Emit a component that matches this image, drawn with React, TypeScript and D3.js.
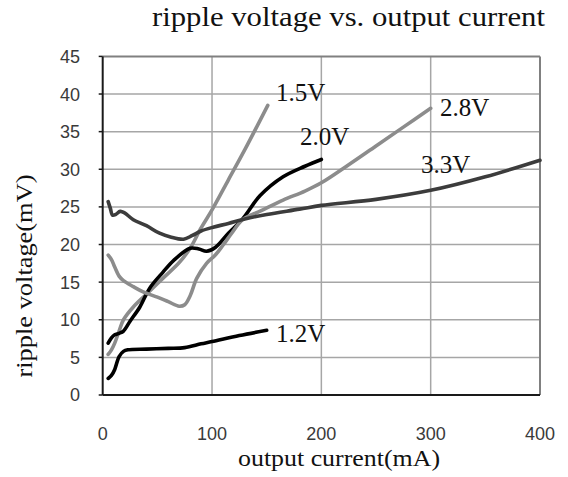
import * as d3 from 'd3'

// ripple voltage (mV) vs output current (mA), one pair of arrays per rail
const x12 = [5, 8, 11, 15, 19, 23, 40, 60, 75, 90, 100, 125, 150]
const y12 = [2.2, 2.6, 3.4, 5.1, 5.8, 6.0, 6.1, 6.2, 6.3, 6.8, 7.1, 7.9, 8.6]

const x15 = [5, 8, 11, 15, 19, 28, 40, 55, 70, 80, 90, 100, 115, 130, 151]
const y15 = [5.4, 6.0, 6.9, 8.5, 10, 11.7, 13.4, 15.5, 17.6, 19.5, 22.2, 24.6, 28.6, 32.6, 38.5]

const x20 = [5, 8, 11, 15, 19, 25, 34, 43, 55, 65, 80, 88, 95, 103, 115, 128, 144, 165, 185, 200]
const y20 = [6.9, 7.6, 8.0, 8.2, 8.5, 9.8, 11.7, 14.2, 16.3, 17.9, 19.5, 19.4, 19.1, 19.6, 21.5, 23.4, 26.5, 29, 30.4, 31.3]

const x28 = [5, 8, 11, 15, 19, 28, 37, 50, 60, 70, 75, 80, 86, 95, 103, 110, 118, 128, 145, 165, 185, 200, 225, 250, 275, 300]
const y28 = [18.6, 18.0, 17.0, 15.8, 15.2, 14.4, 13.7, 13.0, 12.4, 11.8, 12.0, 13.2, 15.5, 17.5, 18.6, 19.9, 21.5, 23.3, 24.5, 25.9, 27.1, 28.2, 30.6, 33.1, 35.6, 38.1]

const x33 = [5, 7, 9, 12, 16, 20, 28, 40, 52, 62, 74, 82, 90, 101, 115, 130, 150, 180, 200, 250, 300, 350, 400]
const y33 = [25.7, 24.8, 23.9, 24.0, 24.4, 24.2, 23.3, 22.5, 21.5, 21.0, 20.7, 21.2, 21.8, 22.3, 22.8, 23.4, 24.0, 24.7, 25.2, 26.0, 27.2, 29.0, 31.2]

const xTicks = [0, 100, 200, 300, 400]
const yTicks = [0, 5, 10, 15, 20, 25, 30, 35, 40, 45]

const series = [
  { name: '1.2V', xs: x12, ys: y12, color: '#000000', lx: 276, ly: 342 },
  { name: '1.5V', xs: x15, ys: y15, color: '#8c8c8c', lx: 276, ly: 101 },
  { name: '2.0V', xs: x20, ys: y20, color: '#000000', lx: 300, ly: 145 },
  { name: '2.8V', xs: x28, ys: y28, color: '#8c8c8c', lx: 440, ly: 116 },
  { name: '3.3V', xs: x33, ys: y33, color: '#3c3c3c', lx: 421, ly: 173 },
]

const W = 568
const H = 477
const left = 102.7
const right = 540
const top = 56.4
const bottom = 395

export default function App() {
  const x = d3.scaleLinear().domain([0, 400]).range([left, right])
  const y = d3.scaleLinear().domain([0, 45]).range([bottom, top])

  const line = d3.line<[number, number]>()
    .x(d => x(d[0]))
    .y(d => y(d[1]))
    .curve(d3.curveCatmullRom.alpha(0.5))

  const serif = '"Liberation Serif", "Times New Roman", serif'
  const sans = '"Liberation Sans", Arial, sans-serif'

  return (
    <svg width={W} height={H} style={{ position: 'absolute', left: 0, top: 0, background: '#fff' }}>
      {/* grid */}
      {yTicks.filter(t => t > 0 && t < 45).map(t => (
        <line key={'gy' + t} x1={left} x2={right} y1={y(t)} y2={y(t)} stroke="#a6a6a6" strokeWidth={1.5} />
      ))}
      {xTicks.filter(t => t > 0 && t < 400).map(t => (
        <line key={'gx' + t} x1={x(t)} x2={x(t)} y1={top} y2={bottom} stroke="#a6a6a6" strokeWidth={1.5} />
      ))}
      {/* frame */}
      <line x1={left} x2={right} y1={top} y2={top} stroke="#808080" strokeWidth={2} />
      <line x1={right} x2={right} y1={top} y2={bottom} stroke="#808080" strokeWidth={2} />
      <line x1={left} x2={left} y1={top} y2={bottom} stroke="#1a1a1a" strokeWidth={2} />
      <line x1={left} x2={right} y1={bottom} y2={bottom} stroke="#1a1a1a" strokeWidth={2} />
      {yTicks.map(t => (
        <line key={'ty' + t} x1={left - 4} x2={left} y1={y(t)} y2={y(t)} stroke="#1a1a1a" strokeWidth={1.5} />
      ))}

      {/* curves */}
      {series.map(s => (
        <path
          key={s.name}
          d={line(s.xs.map((v, i) => [v, s.ys[i]] as [number, number])) || ''}
          fill="none"
          stroke={s.color}
          strokeWidth={3.6}
          strokeLinecap="round"
          strokeLinejoin="round"
        />
      ))}
      {series.map(s => (
        <text key={'l' + s.name} x={s.lx} y={s.ly} fontFamily={serif} fontSize={25} fill="#111">
          {s.name}
        </text>
      ))}

      {/* tick labels */}
      {yTicks.map(t => (
        <text key={'yl' + t} x={80} y={y(t)} dy="0.36em" textAnchor="end" fontFamily={sans} fontSize={18} fill="#3a3a3a">
          {t}
        </text>
      ))}
      {xTicks.map(t => (
        <text key={'xl' + t} x={x(t)} y={440} textAnchor="middle" fontFamily={sans} fontSize={18} fill="#3a3a3a">
          {t}
        </text>
      ))}

      {/* titles */}
      <text x={348.5} y={26} textAnchor="middle" fontFamily={serif} fontSize={28} fill="#111"
        textLength={393} lengthAdjust="spacingAndGlyphs">
        ripple voltage vs. output current
      </text>
      <text x={339} y={466} textAnchor="middle" fontFamily={serif} fontSize={24} fill="#111"
        textLength={202} lengthAdjust="spacingAndGlyphs">
        output current(mA)
      </text>
      <text transform={`translate(32,276) rotate(-90)`} textAnchor="middle" fontFamily={serif} fontSize={24} fill="#111"
        textLength={203} lengthAdjust="spacingAndGlyphs">
        ripple voltage(mV)
      </text>
    </svg>
  )
}
